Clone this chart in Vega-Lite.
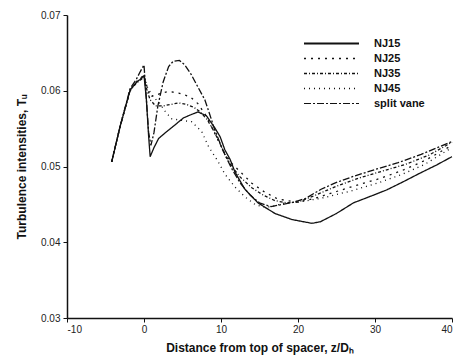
{
  "$schema": "https://vega.github.io/schema/vega-lite/v6.json",
  "width": 385,
  "height": 303,
  "autosize": {"type": "none"},
  "padding": {"left": 67, "top": 15, "right": 10, "bottom": 43},
  "background": "white",
  "config": {
    "view": {"stroke": null},
    "font": "Liberation Sans",
    "axis": {"domainColor": "#111", "tickColor": "#111", "labelColor": "#222", "titleColor": "#111", "grid": false, "domainWidth": 1.5, "tickSize": 4, "labelFont": "Liberation Sans", "labelFontSize": 10, "titleFont": "Liberation Sans", "titleFontSize": 12, "titleFontWeight": "bold"}
  },
  "data": {"values": [
    {"s": "NJ15", "x": -4.2, "y": 0.0506}, {"s": "NJ15", "x": -3.1, "y": 0.0553}, {"s": "NJ15", "x": -1.8, "y": 0.0601}, {"s": "NJ15", "x": -1.0, "y": 0.0611}, {"s": "NJ15", "x": -0.5, "y": 0.0615},
    {"s": "NJ15", "x": 0, "y": 0.0620}, {"s": "NJ15", "x": 0.3, "y": 0.0590}, {"s": "NJ15", "x": 0.6, "y": 0.0540}, {"s": "NJ15", "x": 0.8, "y": 0.0513}, {"s": "NJ15", "x": 1.3, "y": 0.0525}, {"s": "NJ15", "x": 1.9, "y": 0.0537}, {"s": "NJ15", "x": 2.7, "y": 0.0544}, {"s": "NJ15", "x": 3.8, "y": 0.0553}, {"s": "NJ15", "x": 5.1, "y": 0.0564}, {"s": "NJ15", "x": 6.0, "y": 0.0568}, {"s": "NJ15", "x": 7.0, "y": 0.0572}, {"s": "NJ15", "x": 8.1, "y": 0.0567}, {"s": "NJ15", "x": 9.2, "y": 0.0551}, {"s": "NJ15", "x": 9.9, "y": 0.0539}, {"s": "NJ15", "x": 10.5, "y": 0.0522}, {"s": "NJ15", "x": 11.2, "y": 0.0509}, {"s": "NJ15", "x": 11.8, "y": 0.0493}, {"s": "NJ15", "x": 13.1, "y": 0.0470}, {"s": "NJ15", "x": 14.8, "y": 0.0452}, {"s": "NJ15", "x": 17.0, "y": 0.0438}, {"s": "NJ15", "x": 19.2, "y": 0.0430}, {"s": "NJ15", "x": 21.8, "y": 0.0425}, {"s": "NJ15", "x": 22.9, "y": 0.0427}, {"s": "NJ15", "x": 25.0, "y": 0.0438}, {"s": "NJ15", "x": 27.2, "y": 0.0452}, {"s": "NJ15", "x": 29.5, "y": 0.0461}, {"s": "NJ15", "x": 31.5, "y": 0.0469}, {"s": "NJ15", "x": 33.5, "y": 0.0479}, {"s": "NJ15", "x": 35.8, "y": 0.0491}, {"s": "NJ15", "x": 38.0, "y": 0.0502}, {"s": "NJ15", "x": 40.0, "y": 0.0513},

    {"s": "NJ25", "x": -4.2, "y": 0.0506}, {"s": "NJ25", "x": -3.1, "y": 0.0553}, {"s": "NJ25", "x": -1.8, "y": 0.0601}, {"s": "NJ25", "x": -1.0, "y": 0.0611}, {"s": "NJ25", "x": -0.5, "y": 0.0616},
    {"s": "NJ25", "x": 0, "y": 0.0621}, {"s": "NJ25", "x": 0.4, "y": 0.0605}, {"s": "NJ25", "x": 0.8, "y": 0.0592}, {"s": "NJ25", "x": 1.5, "y": 0.0594}, {"s": "NJ25", "x": 2.3, "y": 0.0597}, {"s": "NJ25", "x": 3.2, "y": 0.0599}, {"s": "NJ25", "x": 4.5, "y": 0.0597}, {"s": "NJ25", "x": 6.0, "y": 0.0592}, {"s": "NJ25", "x": 7.0, "y": 0.0583}, {"s": "NJ25", "x": 8.0, "y": 0.0568}, {"s": "NJ25", "x": 8.8, "y": 0.0552}, {"s": "NJ25", "x": 9.6, "y": 0.0535}, {"s": "NJ25", "x": 10.5, "y": 0.0517}, {"s": "NJ25", "x": 11.4, "y": 0.0504}, {"s": "NJ25", "x": 12.7, "y": 0.0491}, {"s": "NJ25", "x": 14.0, "y": 0.0478}, {"s": "NJ25", "x": 15.7, "y": 0.0466}, {"s": "NJ25", "x": 17.4, "y": 0.0457}, {"s": "NJ25", "x": 19.2, "y": 0.0454}, {"s": "NJ25", "x": 20.5, "y": 0.0454}, {"s": "NJ25", "x": 22.2, "y": 0.0458}, {"s": "NJ25", "x": 25.0, "y": 0.0467}, {"s": "NJ25", "x": 27.2, "y": 0.0474}, {"s": "NJ25", "x": 30.6, "y": 0.0484}, {"s": "NJ25", "x": 33.6, "y": 0.0495}, {"s": "NJ25", "x": 36.5, "y": 0.0508}, {"s": "NJ25", "x": 40.0, "y": 0.0528},

    {"s": "NJ35", "x": -4.2, "y": 0.0506}, {"s": "NJ35", "x": -3.1, "y": 0.0553}, {"s": "NJ35", "x": -1.8, "y": 0.0600}, {"s": "NJ35", "x": -1.0, "y": 0.0610}, {"s": "NJ35", "x": -0.5, "y": 0.0614},
    {"s": "NJ35", "x": 0, "y": 0.0618}, {"s": "NJ35", "x": 0.4, "y": 0.0600}, {"s": "NJ35", "x": 0.8, "y": 0.0588}, {"s": "NJ35", "x": 1.5, "y": 0.0580}, {"s": "NJ35", "x": 2.5, "y": 0.0580}, {"s": "NJ35", "x": 3.5, "y": 0.0582}, {"s": "NJ35", "x": 4.5, "y": 0.0584}, {"s": "NJ35", "x": 5.5, "y": 0.0582}, {"s": "NJ35", "x": 6.5, "y": 0.0578}, {"s": "NJ35", "x": 7.3, "y": 0.0572}, {"s": "NJ35", "x": 8.2, "y": 0.0562}, {"s": "NJ35", "x": 9.0, "y": 0.0548}, {"s": "NJ35", "x": 9.8, "y": 0.0532}, {"s": "NJ35", "x": 10.6, "y": 0.0514}, {"s": "NJ35", "x": 11.4, "y": 0.0500}, {"s": "NJ35", "x": 12.5, "y": 0.0486}, {"s": "NJ35", "x": 14.0, "y": 0.0472}, {"s": "NJ35", "x": 15.5, "y": 0.0462}, {"s": "NJ35", "x": 17.0, "y": 0.0455}, {"s": "NJ35", "x": 18.5, "y": 0.0452}, {"s": "NJ35", "x": 20.0, "y": 0.0453}, {"s": "NJ35", "x": 22.0, "y": 0.0461}, {"s": "NJ35", "x": 25.0, "y": 0.0474}, {"s": "NJ35", "x": 28.0, "y": 0.0485}, {"s": "NJ35", "x": 31.0, "y": 0.0494}, {"s": "NJ35", "x": 34.0, "y": 0.0503}, {"s": "NJ35", "x": 37.0, "y": 0.0515}, {"s": "NJ35", "x": 40.0, "y": 0.0532},

    {"s": "NJ45", "x": -4.2, "y": 0.0506}, {"s": "NJ45", "x": -3.1, "y": 0.0553}, {"s": "NJ45", "x": -1.8, "y": 0.0601}, {"s": "NJ45", "x": -1.0, "y": 0.0612}, {"s": "NJ45", "x": -0.5, "y": 0.0616},
    {"s": "NJ45", "x": 0, "y": 0.0619}, {"s": "NJ45", "x": 0.5, "y": 0.0603}, {"s": "NJ45", "x": 1.2, "y": 0.0592}, {"s": "NJ45", "x": 2.0, "y": 0.0584}, {"s": "NJ45", "x": 2.8, "y": 0.0572}, {"s": "NJ45", "x": 3.6, "y": 0.0563}, {"s": "NJ45", "x": 4.8, "y": 0.0561}, {"s": "NJ45", "x": 6.2, "y": 0.0559}, {"s": "NJ45", "x": 7.5, "y": 0.0546}, {"s": "NJ45", "x": 8.4, "y": 0.0526}, {"s": "NJ45", "x": 9.6, "y": 0.0507}, {"s": "NJ45", "x": 10.5, "y": 0.0490}, {"s": "NJ45", "x": 11.8, "y": 0.0473}, {"s": "NJ45", "x": 13.1, "y": 0.0460}, {"s": "NJ45", "x": 14.4, "y": 0.0450}, {"s": "NJ45", "x": 15.7, "y": 0.0446}, {"s": "NJ45", "x": 17.0, "y": 0.0448}, {"s": "NJ45", "x": 18.3, "y": 0.0452}, {"s": "NJ45", "x": 20.0, "y": 0.0453}, {"s": "NJ45", "x": 23.0, "y": 0.0458}, {"s": "NJ45", "x": 27.0, "y": 0.0468}, {"s": "NJ45", "x": 30.6, "y": 0.0479}, {"s": "NJ45", "x": 33.6, "y": 0.0490}, {"s": "NJ45", "x": 36.5, "y": 0.0503}, {"s": "NJ45", "x": 40.0, "y": 0.0525},

    {"s": "split vane", "x": -4.2, "y": 0.0506}, {"s": "split vane", "x": -3.1, "y": 0.0553}, {"s": "split vane", "x": -1.8, "y": 0.0603}, {"s": "split vane", "x": -1.0, "y": 0.0615}, {"s": "split vane", "x": -0.5, "y": 0.0625},
    {"s": "split vane", "x": 0, "y": 0.0634}, {"s": "split vane", "x": 0.3, "y": 0.0590}, {"s": "split vane", "x": 0.6, "y": 0.0545}, {"s": "split vane", "x": 0.9, "y": 0.0528}, {"s": "split vane", "x": 1.3, "y": 0.0545}, {"s": "split vane", "x": 1.8, "y": 0.0580}, {"s": "split vane", "x": 2.5, "y": 0.0612}, {"s": "split vane", "x": 3.2, "y": 0.0632}, {"s": "split vane", "x": 3.8, "y": 0.0639}, {"s": "split vane", "x": 4.6, "y": 0.0640}, {"s": "split vane", "x": 5.3, "y": 0.0634}, {"s": "split vane", "x": 6.1, "y": 0.0622}, {"s": "split vane", "x": 7.0, "y": 0.0605}, {"s": "split vane", "x": 7.9, "y": 0.0588}, {"s": "split vane", "x": 8.5, "y": 0.0570}, {"s": "split vane", "x": 9.2, "y": 0.0548}, {"s": "split vane", "x": 10.3, "y": 0.0520}, {"s": "split vane", "x": 11.4, "y": 0.0497}, {"s": "split vane", "x": 12.5, "y": 0.0478}, {"s": "split vane", "x": 13.8, "y": 0.0462}, {"s": "split vane", "x": 15.0, "y": 0.0452}, {"s": "split vane", "x": 16.5, "y": 0.0447}, {"s": "split vane", "x": 18.0, "y": 0.0450}, {"s": "split vane", "x": 19.5, "y": 0.0453}, {"s": "split vane", "x": 21.0, "y": 0.0458}, {"s": "split vane", "x": 23.0, "y": 0.0470}, {"s": "split vane", "x": 25.0, "y": 0.0479}, {"s": "split vane", "x": 27.2, "y": 0.0487}, {"s": "split vane", "x": 30.0, "y": 0.0496}, {"s": "split vane", "x": 33.0, "y": 0.0505}, {"s": "split vane", "x": 36.0, "y": 0.0516}, {"s": "split vane", "x": 40.0, "y": 0.0533}
  ]},
  "mark": {"type": "line", "color": "#111", "strokeWidth": 1.3},
  "encoding": {
    "x": {"field": "x", "type": "quantitative", "scale": {"domain": [-10, 40], "nice": false, "zero": false},
      "axis": {"values": [-10, 0, 10, 20, 30, 40], "labelExpr": "datum.value < 0 ? '-' + abs(datum.value) : '' + datum.value", "title": "Distance from top of spacer, z/Dₕ", "titlePadding": 8, "labelPadding": 2}},
    "y": {"field": "y", "type": "quantitative", "scale": {"domain": [0.03, 0.07], "nice": false, "zero": false},
      "axis": {"values": [0.03, 0.04, 0.05, 0.06, 0.07], "format": ".2f", "title": "Turbulence intensities, Tᵤ", "titlePadding": 12, "labelPadding": 3}},
    "strokeDash": {"field": "s", "type": "nominal",
      "scale": {"domain": ["NJ15", "NJ25", "NJ35", "NJ45", "split vane"], "range": [[1, 0], [2, 5], [3, 2, 1, 2], [1, 4], [7, 2, 2, 2]]},
      "legend": {"title": null, "orient": "none", "legendX": 280, "legendY": 22, "symbolType": "M-9,0H1", "symbolSize": 121, "symbolStrokeWidth": 1.3, "symbolStrokeColor": "#111", "labelOffset": 14, "labelFont": "Liberation Sans", "labelFontSize": 11, "labelFontWeight": "bold", "labelColor": "#111", "rowPadding": 3}},
    "strokeWidth": {"field": "s", "type": "nominal", "scale": {"domain": ["NJ15", "NJ25", "NJ35", "NJ45", "split vane"], "range": [1.8, 1.1, 1.1, 0.9, 1.2]}, "legend": null}
  }
}
